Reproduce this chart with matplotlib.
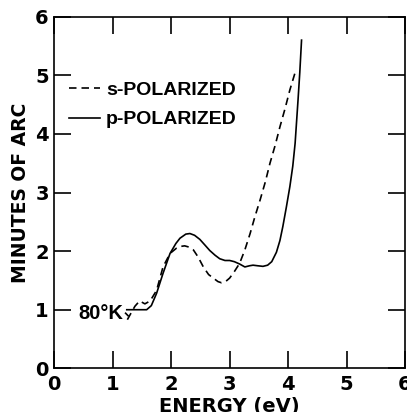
import matplotlib
matplotlib.use("Agg")
import matplotlib.pyplot as plt
import numpy as np

plt.rcParams['font.family'] = ['Liberation Sans', 'DejaVu Sans']
plt.rcParams['font.weight'] = 'bold'

# p-polarized (solid)
p_energy = [1.24, 1.40, 1.58, 1.66, 1.75, 1.86, 1.98, 2.08, 2.15, 2.25, 2.32, 2.40,
            2.49, 2.58, 2.66, 2.75, 2.83, 2.92, 3.00, 3.08, 3.17, 3.26, 3.34, 3.40,
            3.48, 3.57, 3.65, 3.72, 3.80, 3.86, 3.91, 3.97, 4.03, 4.08, 4.12, 4.17, 4.20, 4.23]
p_arc = [1.00, 1.00, 1.00, 1.07, 1.28, 1.62, 1.96, 2.13, 2.22, 2.29, 2.30, 2.27,
         2.20, 2.10, 2.01, 1.93, 1.87, 1.84, 1.84, 1.82, 1.78, 1.73, 1.75, 1.76,
         1.75, 1.74, 1.76, 1.82, 1.98, 2.18, 2.42, 2.75, 3.10, 3.45, 3.84, 4.58, 5.05, 5.60]

# s-polarized (dashed)
s_energy = [1.25, 1.30, 1.38, 1.46, 1.55, 1.64, 1.75, 1.86, 1.98, 2.09, 2.16, 2.23,
            2.30, 2.38, 2.46, 2.55, 2.64, 2.72, 2.80, 2.86, 2.93, 3.00, 3.08, 3.17,
            3.26, 3.35, 3.43, 3.52, 3.61, 3.69, 3.78, 3.86, 3.95, 4.03, 4.13]
s_arc = [0.83, 0.92, 1.06, 1.15, 1.10, 1.15, 1.33, 1.73, 1.96, 2.05, 2.08, 2.09,
         2.07, 2.02, 1.90, 1.73, 1.60, 1.54, 1.48, 1.46, 1.48, 1.54, 1.65, 1.79,
         2.02, 2.30, 2.58, 2.87, 3.18, 3.50, 3.81, 4.12, 4.44, 4.75, 5.08]

x_ticks = [0, 1, 2, 3, 4, 5, 6]
y_ticks = [0, 1, 2, 3, 4, 5, 6]

wide = ['DejaVu Sans']

fig = plt.figure(figsize=(4.07, 4.12), dpi=100)
ax = fig.add_axes([0.1334, 0.106, 0.8617, 0.8535])

ax.plot(s_energy, s_arc, color='black', lw=1.2, linestyle=(0, (4.5, 3)), label='s-POLARIZED')
ax.plot(p_energy, p_arc, color='black', lw=1.2, linestyle='-', label='p-POLARIZED')

ax.set_xlim(0, 6)
ax.set_ylim(0, 6)
ax.set_xticks(x_ticks)
ax.set_yticks(y_ticks)
ax.set_xticklabels([str(v) for v in x_ticks], fontsize=14, fontweight='bold', family=wide)
ax.set_yticklabels([str(v) for v in y_ticks], fontsize=14, fontweight='bold', family=wide)
ax.tick_params(axis='both', direction='in', length=12, width=1.2,
               top=True, right=True)
ax.tick_params(axis='x', pad=5)
ax.tick_params(axis='y', pad=4)
for s in ax.spines.values():
    s.set_linewidth(1.2)

ax.set_xlabel('ENERGY (eV)', fontsize=14, fontweight='bold', family=wide, labelpad=2)
ax.set_ylabel('MINUTES OF ARC', fontsize=13.5, fontweight='bold', family=wide, labelpad=4)

ax.text(0.41, 0.94, '80°K', fontsize=14.5, fontweight='bold', ha='left', va='center')
ax.plot([1.22, 1.26], [0.94, 0.9], color='black', lw=1.2)

leg = ax.legend(loc='center left', bbox_to_anchor=(0.042, 0.749), frameon=False,
                fontsize=14, handlelength=1.6, handletextpad=0.3, labelspacing=0.6,
                borderpad=0, borderaxespad=0)
for t in leg.get_texts():
    t.set_fontweight('bold')

fig.savefig('out.png', dpi=100)
